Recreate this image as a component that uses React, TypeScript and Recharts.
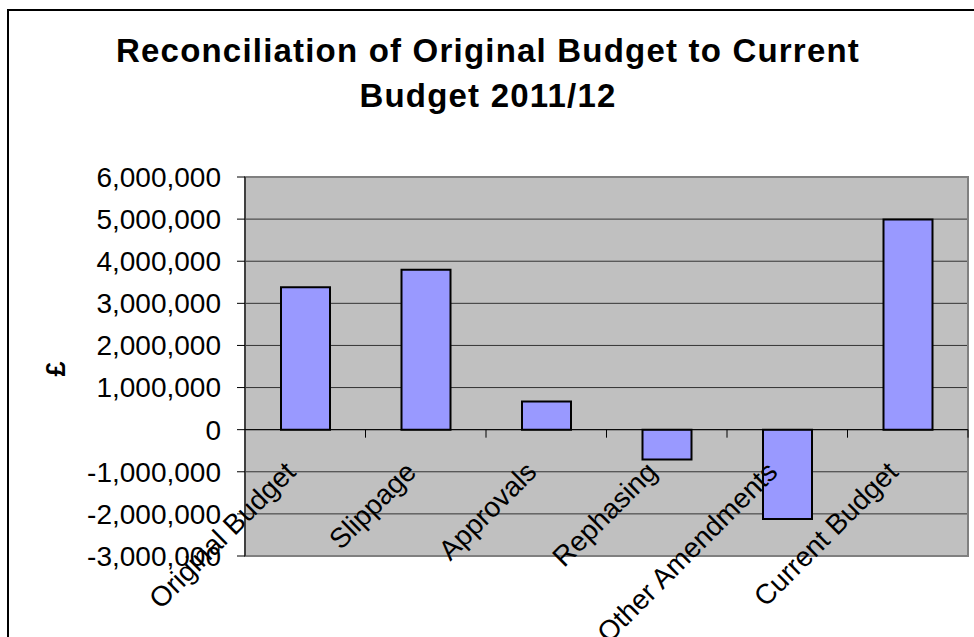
import { BarChart, Bar, XAxis, YAxis, CartesianGrid, ReferenceLine, ReferenceArea } from 'recharts';

const categories = ['Original Budget', 'Slippage', 'Approvals', 'Rephasing', 'Other Amendments', 'Current Budget'];
const amounts = [3380000, 3800000, 670000, -710000, -2120000, 4990000];
const yTicks = [-3000000, -2000000, -1000000, 0, 1000000, 2000000, 3000000, 4000000, 5000000, 6000000];

const data = categories.map((name, i) => ({ name, value: amounts[i] }));

// layout of the plot box inside the 974x637 page
const W = 974;
const H = 637;
const PLOT_LEFT = 245;
const PLOT_RIGHT = 968;
const PLOT_TOP = 177;
const PLOT_BOTTOM = 556;
const Y_AXIS_W = 140;
const X_AXIS_H = 20;
const BAND = (PLOT_RIGHT - PLOT_LEFT) / categories.length;
const Y_MIN = yTicks[0];
const Y_MAX = yTicks[yTicks.length - 1];
// where the zero line sits (category labels hang off it)
const Y0 = PLOT_TOP + ((Y_MAX - 0) / (Y_MAX - Y_MIN)) * (PLOT_BOTTOM - PLOT_TOP);

const FONT = '"Liberation Sans", Arial, sans-serif';

function CategoryTick(props: any) {
  const { x, payload } = props;
  const lx = x - 8;
  const ly = Y0 + 44;
  return (
    <g>
      <line x1={x + BAND / 2} y1={Y0} x2={x + BAND / 2} y2={Y0 + 8} stroke="#000" strokeWidth={1} />
      <text
        x={lx}
        y={ly}
        transform={`rotate(-45 ${lx} ${ly})`}
        textAnchor="end"
        fontSize={28}
        fontFamily={FONT}
        fill="#000"
      >
        {payload.value}
      </text>
    </g>
  );
}

export default function App() {
  return (
    <div style={{ position: 'fixed', left: 0, top: 0, width: W, height: H, overflow: 'hidden', background: '#fff', fontFamily: FONT }}>
      <div style={{ position: 'absolute', left: 7, top: 9, width: 1100, height: 1100, border: '2px solid #000' }} />
      <div
        style={{
          position: 'absolute',
          left: 0,
          top: 28,
          width: 976,
          textAlign: 'center',
          fontSize: 33,
          fontWeight: 'bold',
          lineHeight: '45px',
          letterSpacing: 1.2,
          color: '#000',
        }}
      >
        Reconciliation of Original Budget to Current
        <br />
        Budget 2011/12
      </div>
      <div
        style={{
          position: 'absolute',
          left: 36,
          top: 352,
          width: 40,
          height: 34,
          lineHeight: '34px',
          textAlign: 'center',
          fontSize: 27,
          fontWeight: 'bold',
          transform: 'rotate(-90deg)',
          color: '#000',
        }}
      >
        £
      </div>
      <div style={{ position: 'absolute', left: 0, top: 0 }}>
        <BarChart
          width={W}
          height={H}
          data={data}
          margin={{ top: PLOT_TOP, right: W - PLOT_RIGHT, bottom: H - PLOT_BOTTOM - X_AXIS_H, left: PLOT_LEFT - Y_AXIS_W }}
          barSize={49}
        >
          <CartesianGrid vertical={false} stroke="#333" fill="#C0C0C0" fillOpacity={1} />
          <ReferenceArea y1={Y_MIN} y2={Y_MAX} fill="none" stroke="#808080" strokeWidth={2} ifOverflow="visible" />
          <XAxis
            dataKey="name"
            height={X_AXIS_H}
            axisLine={false}
            tickLine={false}
            interval={0}
            tick={(p: any) => <CategoryTick {...p} />}
          />
          <YAxis
            width={Y_AXIS_W}
            domain={[Y_MIN, Y_MAX]}
            ticks={yTicks}
            interval={0}
            stroke="#000"
            tickSize={8}
            tickMargin={16}
            tick={{ fill: '#000', fontSize: 28, fontFamily: FONT }}
            tickFormatter={(v: number) => v.toLocaleString('en-US')}
          />
          <ReferenceLine y={0} stroke="#000" strokeWidth={1} />
          <Bar dataKey="value" fill="#9999FF" stroke="#000" strokeWidth={2} isAnimationActive={false} />
        </BarChart>
      </div>
    </div>
  );
}
